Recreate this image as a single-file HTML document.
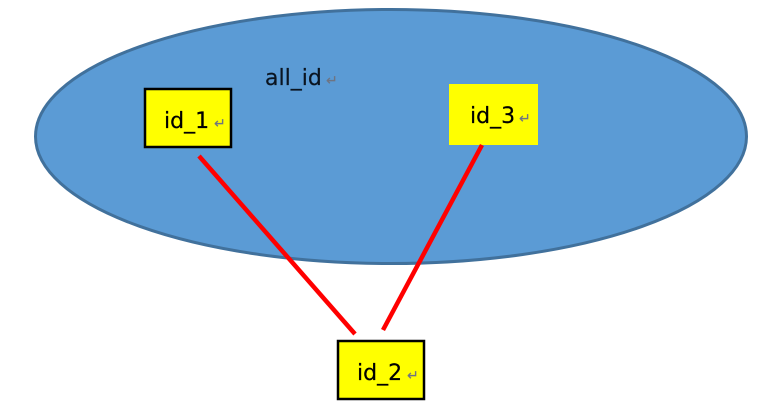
<!DOCTYPE html>
<html>
<head>
<meta charset="utf-8">
<style>
html,body{margin:0;padding:0;background:#fff;width:761px;height:412px;overflow:hidden}
svg{display:block}
text{font-family:"DejaVu Sans",sans-serif;font-size:22px;fill:#000;stroke:#000;stroke-width:.2px}
.d{fill:#0a1420;stroke:#0a1420}
.m{font-size:14px;fill:#6f7482;stroke:#6f7482;font-family:"DejaVu Sans",sans-serif}
</style>
</head>
<body>
<svg width="761" height="412" viewBox="0 0 761 412" xmlns="http://www.w3.org/2000/svg">
<rect width="761" height="412" fill="#fff"/>
<ellipse cx="391" cy="136.500" rx="355.500" ry="127" fill="#5b9bd5" stroke="#41719c" stroke-width="3"/>
<rect x="145" y="89" width="86" height="58" fill="#ff0" stroke="#000" stroke-width="2.500"/>
<rect x="449" y="84" width="89" height="61" fill="#ff0"/>
<rect x="338" y="341" width="86" height="58" fill="#ff0" stroke="#000" stroke-width="2.500"/>
<line x1="199" y1="156" x2="355" y2="334" stroke="#f00" stroke-width="4.500"/>
<line x1="482" y1="145" x2="383" y2="330" stroke="#f00" stroke-width="4.500"/>
<text class="d" x="265" y="85">all_id</text>
<text x="164" y="128">id_1</text>
<text x="470" y="123">id_3</text>
<text x="357" y="380">id_2</text>
<text class="m" x="326" y="85">↵</text>
<text class="m" x="214" y="128">↵</text>
<text class="m" x="519" y="123">↵</text>
<text class="m" x="407" y="380">↵</text>
</svg>
</body>
</html>
